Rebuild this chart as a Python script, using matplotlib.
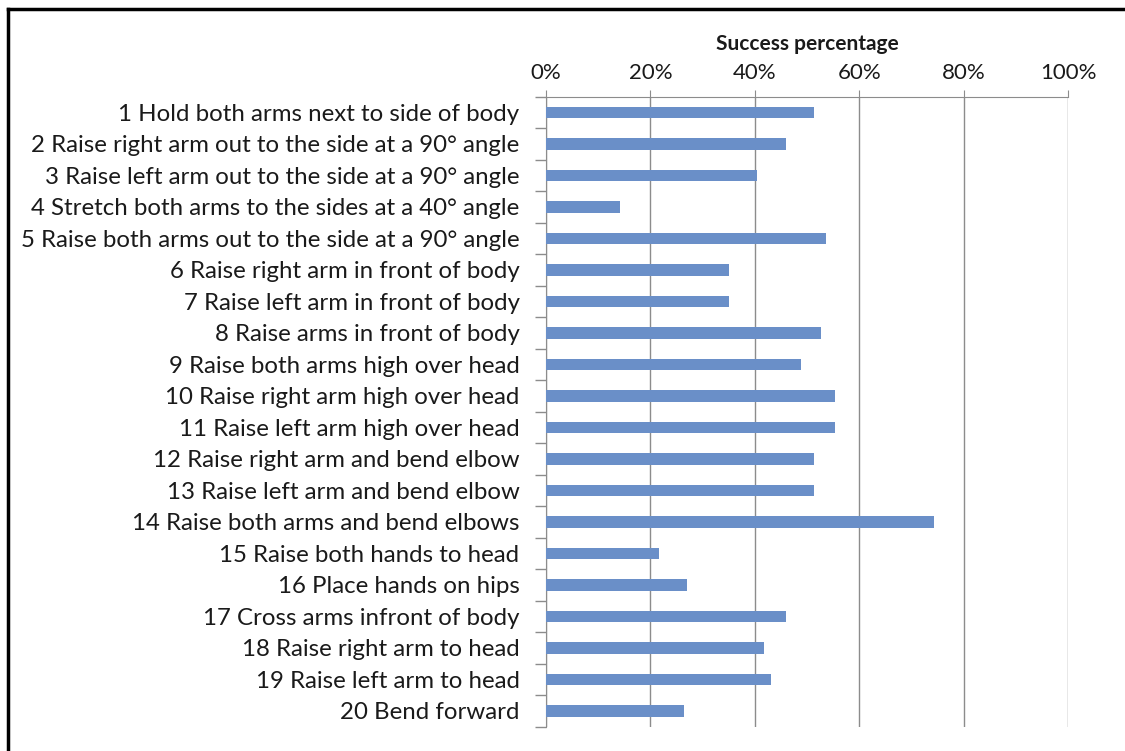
import matplotlib.pyplot as plt
import numpy as np
from matplotlib.ticker import FixedLocator, PercentFormatter

# exercise labels, top to bottom
labels = [
    "1 Hold both arms next to side of body",
    "2 Raise right arm out to the side at a 90° angle",
    "3 Raise left arm out to the side at a 90° angle",
    "4 Stretch both arms to the sides at a 40° angle",
    "5 Raise both arms out to the side at a 90° angle",
    "6 Raise right arm in front of body",
    "7 Raise left arm in front of body",
    "8 Raise arms in front of body",
    "9 Raise both arms high over head",
    "10 Raise right arm high over head",
    "11 Raise left arm high over head",
    "12 Raise right arm and bend elbow",
    "13 Raise left arm and bend elbow",
    "14 Raise both arms and bend elbows",
    "15 Raise both hands to head",
    "16 Place hands on hips",
    "17 Cross arms infront of body",
    "18 Raise right arm to head",
    "19 Raise left arm to head",
    "20 Bend forward",
]

# success percentage per exercise
success = [51.3, 45.9, 40.5, 14.2, 53.6, 35.1, 35.1, 52.7, 48.8, 55.4,
           55.4, 51.3, 51.3, 74.3, 21.6, 27.1, 45.9, 41.7, 43.2, 26.5]

x_ticks = [0, 20, 40, 60, 80, 100]

plt.rcParams['font.family'] = ['Lato', 'DejaVu Sans']

fig = plt.figure(figsize=(11.25, 7.51), dpi=100)
ax = fig.add_axes([0.4853, 0.0324, 0.464, 0.839])

y = np.arange(len(labels))
ax.barh(y, success, height=0.37, color="#6a8fc8", zorder=3)

ax.set_xlim(0, 100)
ax.set_ylim(len(labels) - 0.5, -0.5)

ax.xaxis.tick_top()
ax.xaxis.set_label_position("top")
ax.xaxis.set_major_locator(FixedLocator(x_ticks))
ax.xaxis.set_major_formatter(PercentFormatter(decimals=0))
ax.set_xlabel("Success percentage", fontsize=15, fontweight="bold", labelpad=9, color="#1a1a1a")
ax.tick_params(axis="x", which="major", length=5, color="#8c8c8c", labelsize=16, pad=5,
               labelcolor="#1a1a1a")

ax.set_yticks(y)
ax.set_yticklabels(labels)
ax.tick_params(axis="y", which="major", length=0, labelsize=17.3, pad=19, labelcolor="#1a1a1a")
ax.yaxis.set_minor_locator(FixedLocator(np.arange(len(labels) + 1) - 0.5))
ax.tick_params(axis="y", which="minor", length=8, color="#8c8c8c", width=1)

ax.grid(axis="x", color="#8c8c8c", linewidth=1, zorder=0)
for side in ["right", "bottom"]:
    ax.spines[side].set_visible(False)
for side in ["top", "left"]:
    ax.spines[side].set_color("#8c8c8c")

# outer frame (top and left edges visible)
fig.add_artist(plt.Line2D([0.0075, 1.0], [0.9875, 0.9875], transform=fig.transFigure, color="black", linewidth=2.5))
fig.add_artist(plt.Line2D([0.0075, 0.0075], [0.0, 0.9875], transform=fig.transFigure, color="black", linewidth=2.5))

fig.savefig("out.png", dpi=100)
